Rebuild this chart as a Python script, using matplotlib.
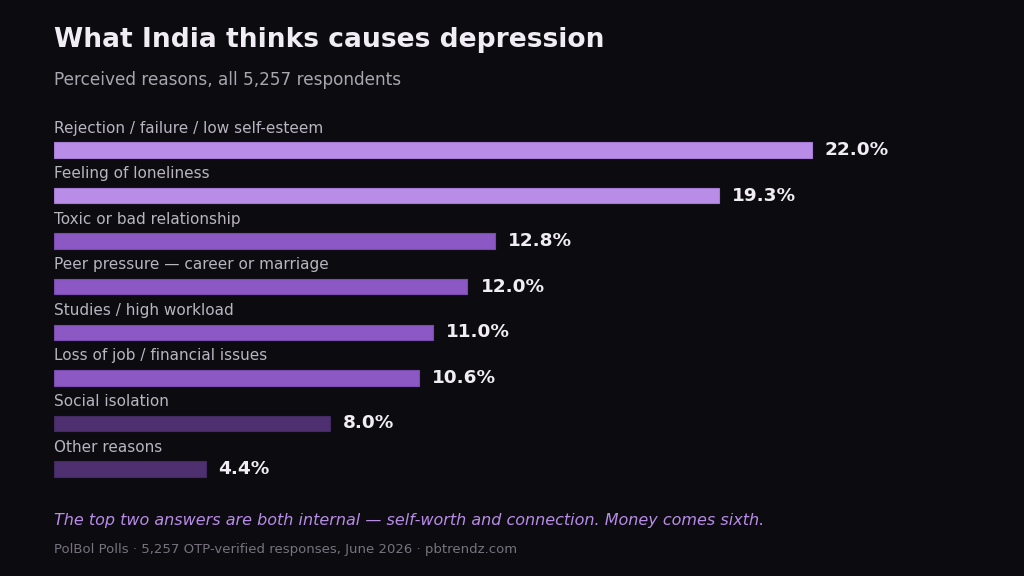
import matplotlib
matplotlib.use("Agg")
import matplotlib.pyplot as plt

plt.rcParams["font.family"] = ["DejaVu Sans"]

reasons = ["Rejection / failure / low self-esteem", "Feeling of loneliness",
           "Toxic or bad relationship", "Peer pressure \u2014 career or marriage",
           "Studies / high workload", "Loss of job / financial issues",
           "Social isolation", "Other reasons"]
shares = [22.0, 19.3, 12.8, 12.0, 11.0, 10.6, 8.0, 4.4]
tiers = ["top", "top", "mid", "mid", "mid", "mid", "low", "low"]

tier_colors = {"top": "#b98ce8", "mid": "#8b58c4", "low": "#4e3070"}
edge_colors = {"top": "#a57bd4", "mid": "#7a4bb0", "low": "#432962"}
bg = "#0c0b10"

W, H = 1024, 576
fig = plt.figure(figsize=(W / 100, H / 100), dpi=100, facecolor=bg)

# axes placed in pixel terms
left, right, top, bottom = 54, 1000, 120, 500
ax = fig.add_axes([left / W, 1 - bottom / H, (right - left) / W, (bottom - top) / H])
ax.set_facecolor(bg)

px_per_unit = 758 / 22.0
ax.set_xlim(0, (right - left) / px_per_unit)
step = (469 - 150) / 7
ax.set_ylim(7 + (bottom - 469) / step, -(150 - top) / step)

ys = list(range(len(reasons)))
ax.barh(ys, shares, height=15.5 / step, color=[tier_colors[t] for t in tiers],
        edgecolor=[edge_colors[t] for t in tiers], linewidth=0.8, align="center")

for y, name, val in zip(ys, reasons, shares):
    ax.text(0, y - 22 / step, name, color="#b8b5c0", fontsize=11, va="center", ha="left")
    ax.text(val + 13 / px_per_unit, y, f"{val:.1f}%", color="#f0eef4", fontsize=13.3,
            fontweight="bold", va="center", ha="left")

ax.axis("off")

fig.text(left / W, 1 - 40 / H, "What India thinks causes depression", color="#f0eef4",
         fontsize=19.1, fontweight="bold", va="center", ha="left")
fig.text(left / W, 1 - 80 / H, "Perceived reasons, all 5,257 respondents", color="#a9a6b0",
         fontsize=12.2, va="center", ha="left")
fig.text(left / W, 1 - 520 / H,
         "The top two answers are both internal \u2014 self-worth and connection. Money comes sixth.",
         color="#b98ce8", fontsize=11.5, style="italic", va="center", ha="left")
fig.text(left / W, 1 - 550 / H,
         "PolBol Polls \u00b7 5,257 OTP-verified responses, June 2026 \u00b7 pbtrendz.com",
         color="#77737f", fontsize=9.55, va="center", ha="left")

fig.savefig("out.png", dpi=100, facecolor=bg)
